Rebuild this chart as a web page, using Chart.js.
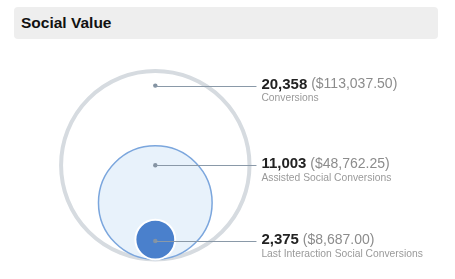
<!DOCTYPE html>
<html>
<head>
<meta charset="utf-8">
<script src="https://cdn.jsdelivr.net/npm/chart.js@4/dist/chart.umd.min.js"></script>
<style>
  body { margin: 0; background: #fff; }
  #wrap { position: relative; width: 455px; height: 279px; overflow: hidden; }
  #social { position: absolute; left: 0; top: 0; }
  .title-bar {
    position: absolute; left: 14px; top: 7px; width: 424px; height: 32px;
    background: #eeeeee; border-radius: 4px; z-index: 2;
    font: bold 15.5px "Liberation Sans", Arial, sans-serif; color: #111;
    line-height: 32px; padding-left: 7px; box-sizing: border-box;
  }
</style>
</head>
<body>
<div id="wrap">
  <div class="title-bar">Social Value</div>
  <canvas id="social" width="455" height="279"></canvas>
</div>
<script>
// Data
const seriesNames = ['Conversions', 'Assisted Social Conversions', 'Last Interaction Social Conversions'];
const conversionCounts = [20358, 11003, 2375];
const conversionValues = [113037.50, 48762.25, 8687.00];
// circle sizes as drawn (axis units), nested and touching at the bottom
const circleRadius = [97, 58.5, 20.5];

// callout anchors (layout only)
const calloutY = [179, 97, 19];
const calloutLineEnd = 103;
const calloutTextX = 108;

const circleFill = ['rgba(0,0,0,0)', '#e8f2fb', '#4a80cc'];
const circleStroke = ['#d6dbe0', '#7ba6dd', '#ffffff'];
const circleStrokeWidth = [4, 1.5, 2];

const FONT = '"Liberation Sans", Arial, sans-serif';

const calloutPlugin = {
    id: 'callouts',
    afterDatasetsDraw(chart) {
        const ctx = chart.ctx;
        const xScale = chart.scales.x;
        const meta = chart.getDatasetMeta(0);
        const lineEnd = xScale.getPixelForValue(calloutLineEnd);
        const textX = xScale.getPixelForValue(calloutTextX);

        meta.data.forEach((pt, i) => {
            ctx.save();
            // leader line
            ctx.strokeStyle = '#8a99a8';
            ctx.lineWidth = 1;
            ctx.beginPath();
            ctx.moveTo(pt.x, Math.round(pt.y) + 0.5);
            ctx.lineTo(lineEnd, Math.round(pt.y) + 0.5);
            ctx.stroke();

            // count + value
            ctx.textBaseline = 'middle';
            ctx.textAlign = 'left';
            const countText = conversionCounts[i].toLocaleString('en-US');
            const valueText = ' ($' + conversionValues[i].toLocaleString('en-US', {
                minimumFractionDigits: 2, maximumFractionDigits: 2
            }) + ')';
            ctx.font = 'bold 15px ' + FONT;
            ctx.fillStyle = '#222222';
            ctx.fillText(countText, textX, pt.y - 1);
            const w = ctx.measureText(countText).width;
            ctx.font = '14px ' + FONT;
            ctx.fillStyle = '#8c8c8c';
            ctx.fillText(valueText, textX + w, pt.y - 1);

            // series name
            ctx.font = '10.3px ' + FONT;
            ctx.fillStyle = '#9a9a9a';
            ctx.fillText(seriesNames[i], textX, pt.y + 13);
            ctx.restore();
        });
    }
};

const radiusPx = (chart, r) => {
    const y = chart.scales.y;
    return Math.abs(y.getPixelForValue(0) - y.getPixelForValue(r));
};

new Chart(document.getElementById('social'), {
    type: 'scatter',
    data: {
        datasets: [
            {
                // callout dots
                order: 0,
                data: calloutY.map(v => ({ x: 0, y: v })),
                pointRadius: 2.2,
                pointBackgroundColor: '#8493a2',
                pointBorderWidth: 0
            },
            {
                // nested circles
                order: 1,
                data: circleRadius.map(r => ({ x: 0, y: r })),
                pointRadius: ctx => radiusPx(ctx.chart, circleRadius[ctx.dataIndex]),
                pointBackgroundColor: circleFill,
                pointBorderColor: circleStroke,
                pointBorderWidth: circleStrokeWidth
            }
        ]
    },
    options: {
        responsive: false,
        devicePixelRatio: 1,
        animation: false,
        events: [],
        layout: { padding: 0 },
        scales: {
            x: { type: 'linear', min: -154, max: 301, display: false },
            y: { type: 'linear', min: -16, max: 263, display: false }
        },
        plugins: {
            legend: { display: false },
            tooltip: { enabled: false }
        }
    },
    plugins: [calloutPlugin]
});
</script>
</body>
</html>
